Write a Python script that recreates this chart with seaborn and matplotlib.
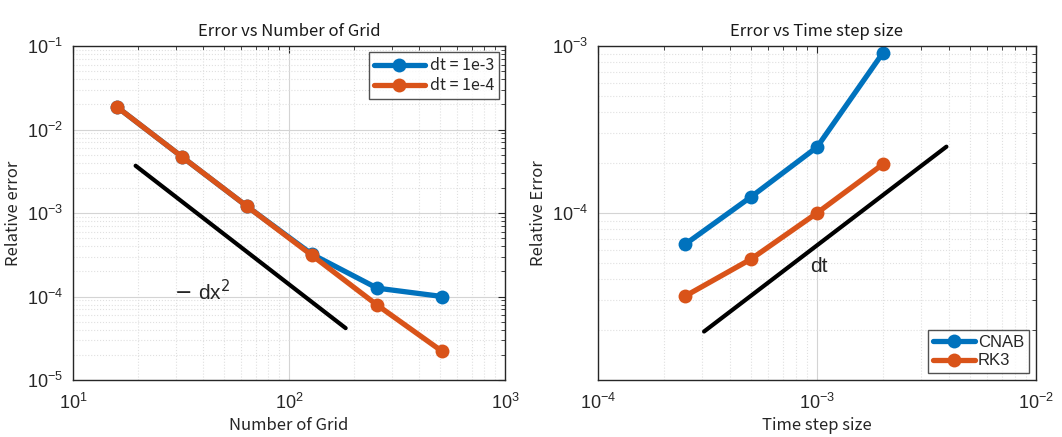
import numpy as np
import pandas as pd
import matplotlib
matplotlib.use("Agg")
import matplotlib.pyplot as plt
import seaborn as sns
from matplotlib.ticker import LogLocator, NullFormatter

# ---------------- data ----------------
n_grid = [16, 32, 64, 128, 256, 512]
err_dt1e3 = [1.86e-2, 4.7e-3, 1.2e-3, 3.2e-4, 1.26e-4, 1.0e-4]
err_dt1e4 = [1.86e-2, 4.7e-3, 1.2e-3, 3.1e-4, 7.9e-5, 2.2e-5]
ref_dx_x = [19.5, 183.0]
ref_dx_c = 1.4  # y = c / x^2

dt_vals = [2.5e-4, 5e-4, 1e-3, 2e-3]
err_cnab = [6.5e-5, 1.25e-4, 2.48e-4, 9.1e-4]
err_rk3 = [3.18e-5, 5.3e-5, 1.0e-4, 1.96e-4]
ref_dt_x = [3.05e-4, 3.9e-3]
ref_dt_c = 0.064  # y = c * x

blue = "#0072BD"
orange = "#D95319"

sns.set_theme(style="white")
plt.rcParams['font.family'] = ['Liberation Sans', 'DejaVu Sans']
cjk = ['Noto Sans CJK JP', 'DejaVu Sans']

fig = plt.figure(figsize=(10.62, 4.37), dpi=100)
ax1 = fig.add_axes([0.0687, 0.1304, 0.4068, 0.7643])
ax2 = fig.add_axes([0.5631, 0.1304, 0.4124, 0.7643])

def style(ax):
    ax.set_xscale('log')
    ax.set_yscale('log')
    for s in ax.spines.values():
        s.set_color('#262626')
        s.set_linewidth(1.0)
        s.set_visible(True)
    ax.tick_params(which='both', direction='in', top=True, right=True,
                   colors='#262626', labelsize=13)
    ax.tick_params(axis='x', which='major', pad=9)
    ax.tick_params(axis='y', which='major', pad=7)
    ax.tick_params(which='major', length=5, width=0.8)
    ax.tick_params(which='minor', length=3, width=0.6)
    ax.xaxis.set_minor_locator(LogLocator(base=10, subs=np.arange(2, 10), numticks=20))
    ax.yaxis.set_minor_locator(LogLocator(base=10, subs=np.arange(2, 10), numticks=20))
    ax.xaxis.set_minor_formatter(NullFormatter())
    ax.yaxis.set_minor_formatter(NullFormatter())
    ax.grid(True, which='major', color='#d4d4d4', linestyle='-', linewidth=0.8)
    ax.grid(True, which='minor', color='#e0e0e0', linestyle=':', linewidth=0.8)
    ax.set_axisbelow(True)

# ---------------- left ----------------
df1 = pd.DataFrame({
    'N': n_grid * 2,
    'err': err_dt1e3 + err_dt1e4,
    'case': ['dt = 1e-3'] * len(n_grid) + ['dt = 1e-4'] * len(n_grid),
})
sns.lineplot(data=df1, x='N', y='err', hue='case', palette=[blue, orange],
             marker='o', markersize=10, linewidth=3.8, markeredgewidth=0,
             ax=ax1, legend=True)
rx = np.array(ref_dx_x)
ax1.plot(rx, ref_dx_c / rx**2, color='black', linewidth=3)
style(ax1)
ax1.set_xlim(10, 1000)
ax1.set_ylim(1e-5, 1e-1)
ax1.text(29.5, 1.13e-4, r'$-\ \mathregular{dx}^2$', fontsize=15, va='center', ha='left')
ax1.set_title('Error vs Number of Grid', family=cjk, fontsize=12, color='#1a1a1a', pad=7)
ax1.set_xlabel('Number of Grid', family=cjk, fontsize=12, color='#262626', labelpad=3)
ax1.set_ylabel('Relative error', family=cjk, fontsize=12, color='#262626', labelpad=4)
leg1 = ax1.legend(loc='upper right', handlelength=3.2,
                  prop={'family': cjk, 'size': 11.5}, fancybox=False,
                  borderpad=0.3, labelspacing=0.2, handletextpad=0.3,
                  borderaxespad=0.4)
leg1.get_frame().set_edgecolor('#262626')
leg1.get_frame().set_linewidth(1.0)

# ---------------- right ----------------
df2 = pd.DataFrame({
    'dt': dt_vals * 2,
    'err': err_cnab + err_rk3,
    'scheme': ['CNAB'] * len(dt_vals) + ['RK3'] * len(dt_vals),
})
sns.lineplot(data=df2, x='dt', y='err', hue='scheme', palette=[blue, orange],
             marker='o', markersize=10, linewidth=3.8, markeredgewidth=0,
             ax=ax2, legend=True)
tx = np.array(ref_dt_x)
ax2.plot(tx, ref_dt_c * tx, color='black', linewidth=3)
style(ax2)
ax2.set_xlim(1e-4, 1e-2)
ax2.set_ylim(1.0e-5, 1e-3)
ax2.set_yticks([1e-4, 1e-3])
ax2.text(9.3e-4, 4.8e-5, 'dt', fontsize=15, va='center', ha='left')
ax2.set_title('Error vs Time step size', family=cjk, fontsize=12, color='#1a1a1a', pad=7)
ax2.set_xlabel('Time step size', family=cjk, fontsize=12, color='#262626', labelpad=3)
ax2.set_ylabel('Relative Error', family=cjk, fontsize=12, color='#262626', labelpad=4)
leg2 = ax2.legend(loc='lower right', handlelength=2.5, fontsize=12,
                  fancybox=False, borderpad=0.3, labelspacing=0.2,
                  handletextpad=0.2, borderaxespad=0.4)
leg2.get_frame().set_edgecolor('#262626')
leg2.get_frame().set_linewidth(1.0)

fig.savefig('out.png', dpi=100, facecolor='white')
